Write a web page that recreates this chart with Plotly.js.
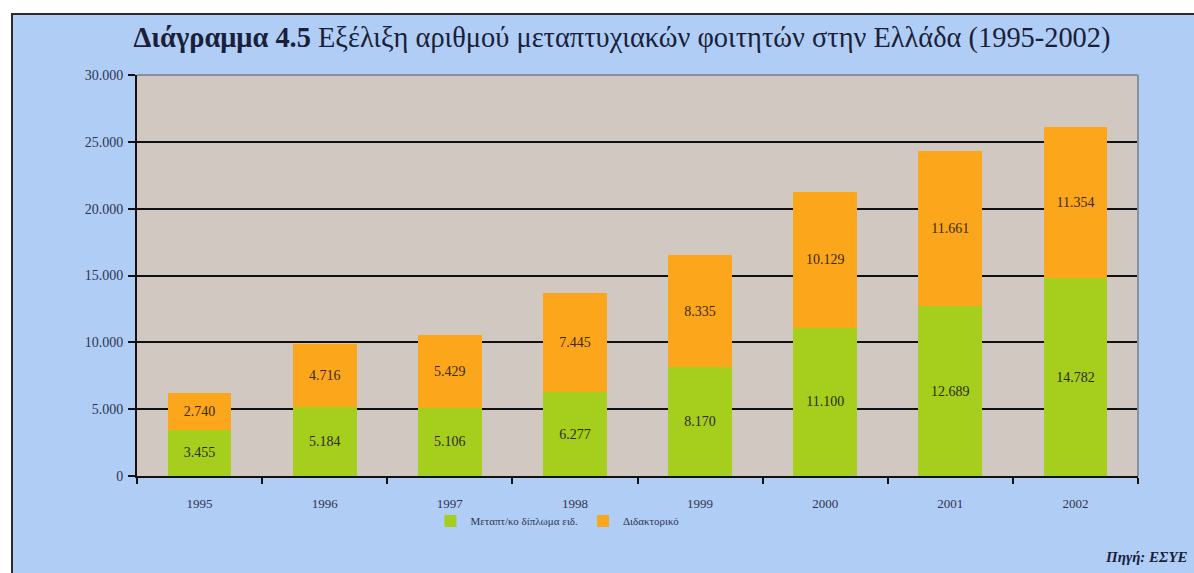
<!DOCTYPE html>
<html>
<head>
<meta charset="utf-8">
<script src="https://cdn.plot.ly/plotly-3.0.1.min.js"></script>
<style>
html,body{margin:0;padding:0;background:#ffffff;width:1194px;height:573px;overflow:hidden;}
#frame{position:absolute;left:11px;top:13px;width:1200px;height:600px;background:#b0cdf6;border-left:2px solid #2a2a2a;border-top:2px solid #2a2a2a;}
#chart{position:absolute;left:0;top:0;width:1194px;height:573px;}
</style>
</head>
<body>
<div id="frame"></div>
<div id="chart"></div>
<script>
var years = ['1995','1996','1997','1998','1999','2000','2001','2002'];
var masters = [3455, 5184, 5106, 6277, 8170, 11100, 12689, 14782];
var doctoral = [2740, 4716, 5429, 7445, 8335, 10129, 11661, 11354];
var seriesNames = ['Μεταπτ/κο δίπλωμα ειδ.', 'Διδακτορικό'];
var yTicks = [0, 5000, 10000, 15000, 20000, 25000, 30000];

var serif = '"Liberation Serif", "Times New Roman", serif';

var traces = [
  {
    type: 'bar', name: seriesNames[0], x: years, y: masters,
    marker: {color: '#a6ce1c'},
    texttemplate: '%{y:,.0f}', textposition: 'inside', insidetextanchor: 'middle',
    textfont: {family: serif, size: 14, color: '#2b2b1a'},
    hoverinfo: 'y'
  },
  {
    type: 'bar', name: seriesNames[1], x: years, y: doctoral,
    marker: {color: '#fca61c'},
    texttemplate: '%{y:,.0f}', textposition: 'inside', insidetextanchor: 'middle',
    textfont: {family: serif, size: 14, color: '#3a2a12'},
    hoverinfo: 'y'
  }
];

var layout = {
  width: 1194, height: 573,
  barmode: 'stack',
  bargap: 0.49,
  separators: ',.',
  paper_bgcolor: 'rgba(0,0,0,0)',
  plot_bgcolor: '#d1c8c2',
  margin: {l: 137, r: 56, t: 75, b: 97},
  font: {family: serif, color: '#2f3550'},
  title: {
    text: '<b>Διάγραμμα 4.5</b> Εξέλιξη αριθμού μεταπτυχιακών φοιτητών στην Ελλάδα (1995-2002)',
    font: {family: serif, size: 28.4, color: '#1a1f3a'},
    x: 0.4845, xanchor: 'center', xref: 'paper',
    y: 0.936, yanchor: 'middle', yref: 'container'
  },
  xaxis: {
    type: 'category',
    showgrid: false,
    showline: true, linecolor: '#111', linewidth: 2,
    ticks: 'outside', tickson: 'boundaries', ticklen: 6, tickcolor: '#111', tickwidth: 2,
    tickfont: {family: serif, size: 13, color: '#2f3550'},
    ticklabelstandoff: 14,
    mirror: false
  },
  yaxis: {
    range: [0, 30000],
    tickvals: yTicks,
    tickformat: ',.0f',
    showgrid: true, gridcolor: '#111', gridwidth: 2,
    showline: true, linecolor: '#111', linewidth: 2,
    ticks: 'outside', ticklen: 7, tickcolor: '#111', tickwidth: 2,
    tickfont: {family: serif, size: 14, color: '#2f3550'},
    ticklabelstandoff: 2,
    zeroline: false
  },
  shapes: [
    {type: 'line', xref: 'paper', yref: 'paper', x0: 0, x1: 1, y0: 1, y1: 1, line: {color: '#8a8f99', width: 2}},
    {type: 'line', xref: 'paper', yref: 'paper', x0: 1, x1: 1, y0: 0, y1: 1, line: {color: '#8a8f99', width: 2}}
  ],
  legend: {
    orientation: 'h',
    traceorder: 'normal',
    x: 0.42, xanchor: 'center',
    y: -0.112, yanchor: 'middle',
    font: {family: serif, size: 11, color: '#2f3550'},
    bgcolor: 'rgba(0,0,0,0)',
    itemwidth: 30
  },
  annotations: [
    {
      text: '<b><i>Πηγή: ΕΣΥΕ</i></b>',
      xref: 'paper', yref: 'paper',
      x: (1190 - 137) / 1001, xanchor: 'right',
      y: (476 - 557) / 401, yanchor: 'middle',
      showarrow: false,
      font: {family: serif, size: 15, color: '#1a1f3a'}
    }
  ]
};

Plotly.newPlot('chart', traces, layout, {displayModeBar: false, staticPlot: true});
</script>
</body>
</html>
